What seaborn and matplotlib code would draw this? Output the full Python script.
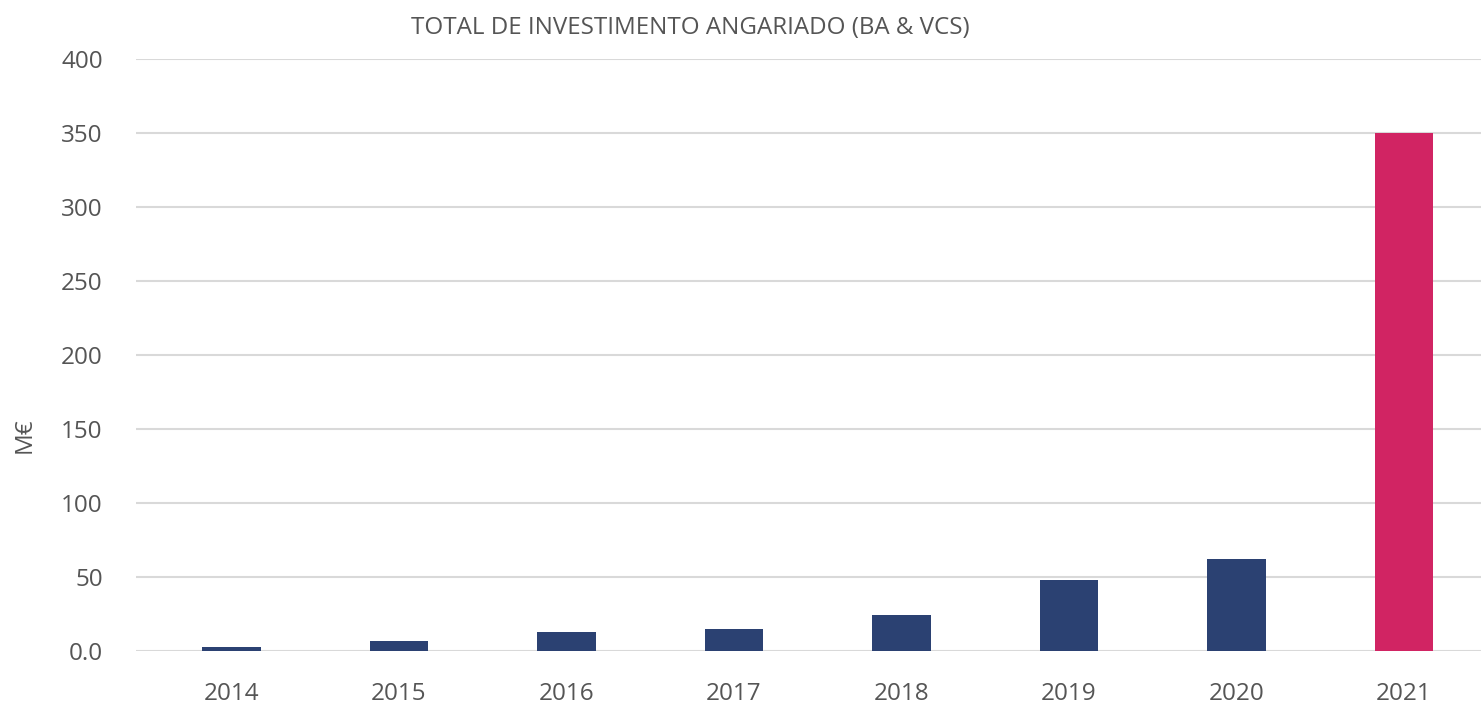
import matplotlib
matplotlib.use("Agg")
import matplotlib.pyplot as plt
import seaborn as sns
import pandas as pd

years = ["2014", "2015", "2016", "2017", "2018", "2019", "2020", "2021"]
values = [2.7, 7.0, 13.0, 15.0, 24.3, 48.2, 62.2, 350.0]
bar_colors = ["#2B4172"] * 7 + ["#D12463"]
ytick_values = [0, 50, 100, 150, 200, 250, 300, 350, 400]
ytick_labels = ["0.0", "50", "100", "150", "200", "250", "300", "350", "400"]
title = "TOTAL DE INVESTIMENTO ANGARIADO (BA & VCS)"
ylabel = "M€"

sns.set_theme(style="white")
plt.rcParams["font.family"] = ["Open Sans", "DejaVu Sans"]

df = pd.DataFrame({"year": years, "value": values})

fig = plt.figure(figsize=(14.81, 7.04), dpi=100)
ax = fig.add_axes([136 / 1481, 1 - 651 / 704, 1 - 136 / 1481, (651 - 59) / 704])

sns.barplot(data=df, x="year", y="value", hue="year", palette=bar_colors,
            width=0.35, legend=False, ax=ax, saturation=1, linewidth=0)

ax.set_xlim(-0.57, 7.46)
ax.set_ylim(0, 400)
ax.set_yticks(ytick_values)
ax.set_yticklabels(ytick_labels)
ax.yaxis.grid(True, color="#d9d9d9", linewidth=1.5)
ax.set_axisbelow(True)
for s in ax.spines.values():
    s.set_visible(False)
ax.tick_params(axis="y", length=0, pad=24, labelsize=17.5, labelcolor="#555555")
ax.tick_params(axis="x", length=0, pad=22, labelsize=17.5, labelcolor="#555555")
ax.set_xlabel("")
ax.set_ylabel("")

fig.text(25 / 1481, 1 - 435 / 704, ylabel, rotation=90, ha="center", va="center",
         fontsize=17.5, color="#555555")
fig.text(690 / 1481, 1 - 28 / 704, title, ha="center", va="center",
         fontsize=17.4, color="#555555")

fig.savefig("out.png", dpi=100)
